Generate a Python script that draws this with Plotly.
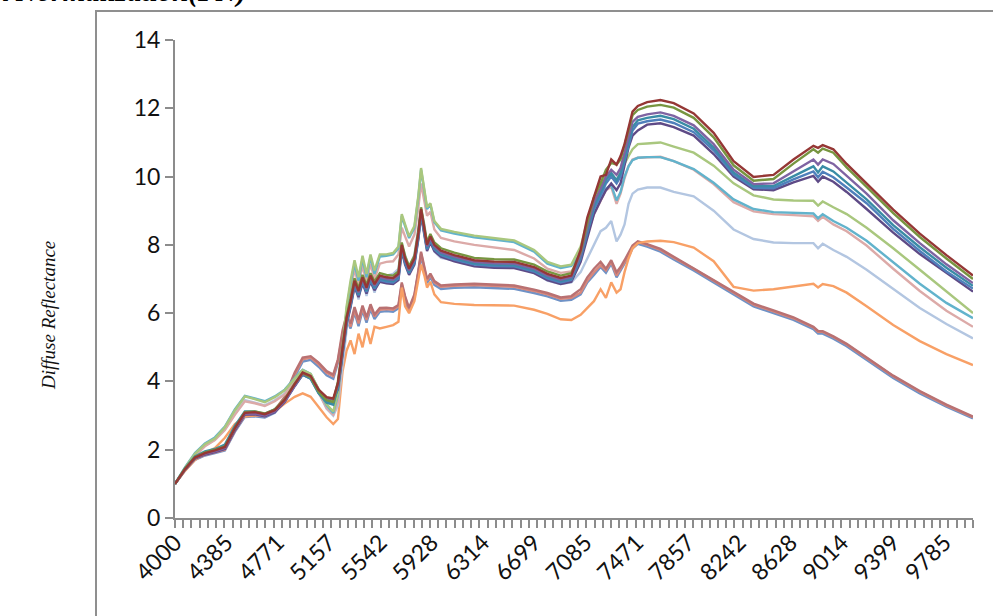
import plotly.graph_objects as go

WAVENUMBER = [4000, 4075, 4150, 4225, 4300, 4375, 4450, 4525, 4600, 4675,
              4750, 4825, 4900, 4960, 5020, 5080, 5140, 5190, 5225, 5260,
              5290, 5320, 5350, 5380, 5410, 5440, 5470, 5500, 5540, 5590,
              5640, 5680, 5705, 5730, 5760, 5800, 5830, 5850, 5875, 5895,
              5920, 5950, 6000, 6100, 6250, 6400, 6550, 6700, 6800, 6900,
              6980, 7050, 7100, 7150, 7200, 7240, 7280, 7320, 7350, 7380,
              7410, 7440, 7480, 7550, 7650, 7750, 7900, 8050, 8200, 8350,
              8500, 8650, 8800, 8835, 8870, 8950, 9050, 9200, 9400, 9600,
              9800, 10000]

# ---- bottom group (blue / salmon / mauve) ----
B1 = [1.0, 1.39, 1.7, 1.83, 1.9, 1.98, 2.52, 2.96, 2.98, 2.94,
      3.08, 3.45, 4.14, 4.58, 4.63, 4.43, 4.18, 4.08,
      4.55, 5.3, 5.85, 5.55, 6.02, 5.62, 6.08, 5.72, 6.12, 5.83, 6.04, 6.06, 6.04, 6.14, 6.78, 6.38, 6.04, 6.44,
      7.13, 7.68, 7.23, 6.88, 7.05, 6.83, 6.71, 6.74, 6.76, 6.74, 6.71, 6.59, 6.49, 6.36, 6.39,
      6.55, 6.9, 7.12, 7.35, 7.18, 7.45, 7.05, 7.25, 7.45, 7.65, 7.9, 8.03,
      7.95, 7.8, 7.57, 7.25, 6.9, 6.55, 6.2, 6.0, 5.8, 5.53, 5.4, 5.4, 5.25, 5.03, 4.63, 4.1, 3.65, 3.26, 2.92]
B2 = [1.0, 1.4, 1.72, 1.85, 1.92, 2.0, 2.55, 3.0, 3.02, 2.98,
      3.12, 3.5, 4.2, 4.65, 4.7, 4.5, 4.25, 4.15,
      4.6, 5.4, 5.9, 5.6, 6.1, 5.7, 6.15, 5.8, 6.2, 5.9, 6.1, 6.12, 6.1, 6.2, 6.85, 6.45, 6.1, 6.5,
      7.2, 7.75, 7.3, 6.95, 7.12, 6.9, 6.77, 6.8, 6.82, 6.8, 6.77, 6.65, 6.55, 6.42, 6.45,
      6.6, 6.95, 7.2, 7.4, 7.25, 7.5, 7.1, 7.3, 7.5, 7.7, 7.95, 8.08,
      8.0, 7.85, 7.62, 7.3, 6.95, 6.6, 6.25, 6.05, 5.85, 5.58, 5.45, 5.45, 5.3, 5.08, 4.68, 4.15, 3.7, 3.3, 2.95]
B3 = [1.0, 1.41, 1.73, 1.87, 1.95, 2.03, 2.58, 3.03, 3.05, 3.01,
      3.16, 3.55, 4.26, 4.7, 4.74, 4.55, 4.3, 4.2,
      4.65, 5.5, 5.95, 5.7, 6.18, 5.8, 6.22, 5.88, 6.26, 5.96, 6.15, 6.16, 6.14, 6.24, 6.9, 6.5, 6.15, 6.55,
      7.25, 7.8, 7.35, 7.0, 7.16, 6.94, 6.81, 6.84, 6.86, 6.84, 6.81, 6.69, 6.59, 6.46, 6.5,
      6.7, 7.05, 7.3, 7.5, 7.3, 7.55, 7.2, 7.35, 7.55, 7.75, 7.98, 8.1,
      8.02, 7.88, 7.65, 7.33, 6.98, 6.63, 6.28, 6.08, 5.88, 5.6, 5.48, 5.47, 5.32, 5.1, 4.7, 4.17, 3.72, 3.32, 2.97]

# ---- single lines ----
ORANGE = [1.0, 1.38, 1.7, 1.9, 2.05, 2.35, 2.75, 2.97, 3.0, 3.02,
          3.12, 3.35, 3.55, 3.65, 3.55, 3.25, 2.95, 2.75, 2.9, 4.3,
          4.9, 5.2, 4.8, 5.4, 5.0, 5.55, 5.1, 5.6, 5.55, 5.6,
          5.65, 5.75, 6.75, 6.2, 6.0, 6.35, 7.0, 7.42, 7.1, 6.75,
          6.92, 6.55, 6.32, 6.27, 6.24, 6.24, 6.22, 6.1, 5.98, 5.82,
          5.8, 5.95, 6.15, 6.35, 6.7, 6.45, 6.9, 6.6, 6.7, 7.2,
          7.6, 7.9, 8.05, 8.1, 8.12, 8.08, 7.92, 7.52, 6.77, 6.66,
          6.7, 6.78, 6.86, 6.75, 6.85, 6.79, 6.6, 6.2, 5.65, 5.18,
          4.8, 4.48]
LAVENDER = [1.0, 1.45, 1.84, 2.12, 2.3, 2.6, 3.05, 3.45, 3.38, 3.3,
            3.45, 3.65, 4.0, 4.25, 4.15, 3.7, 3.2, 3.0, 3.3, 4.5,
            5.5, 6.3, 6.9, 6.4, 7.1, 6.5, 7.0, 6.6, 7.1, 7.1,
            7.15, 7.3, 8.0, 7.7, 7.35, 7.7, 8.5, 9.05, 8.6, 8.0,
            8.15, 7.8, 7.62, 7.55, 7.5, 7.42, 7.37, 7.2, 6.95, 6.85,
            6.9, 7.2, 7.6, 8.0, 8.4, 8.5, 8.7, 8.1, 8.3, 8.6,
            9.2, 9.5, 9.62, 9.68, 9.68, 9.55, 9.42, 9.0, 8.45, 8.17,
            8.07, 8.05, 8.05, 7.9, 8.03, 7.85, 7.65, 7.27, 6.7, 6.15,
            5.68, 5.26]
PINK = [1.0, 1.44, 1.82, 2.1, 2.28, 2.58, 3.02, 3.42, 3.36, 3.28,
        3.42, 3.62, 3.98, 4.22, 4.12, 3.68, 3.22, 3.03, 3.4, 4.8,
        5.9, 6.6, 7.3, 6.8, 7.4, 6.9, 7.45, 7.0, 7.45, 7.5,
        7.52, 7.72, 8.5, 8.25, 7.95, 8.3, 9.1, 9.8, 9.3, 8.85,
        8.97, 8.45, 8.2, 8.1, 8.0, 7.93, 7.85, 7.6, 7.3, 7.18,
        7.22, 7.6, 8.3, 8.9, 9.3, 9.6, 9.7, 9.2, 9.5, 9.95,
        10.3, 10.5, 10.55, 10.57, 10.58, 10.45, 10.2, 9.78, 9.25, 8.98,
        8.9, 8.87, 8.84, 8.7, 8.82, 8.6, 8.4, 7.98, 7.3, 6.65,
        6.07, 5.6]
TEAL = [1.0, 1.48, 1.9, 2.18, 2.36, 2.68, 3.18, 3.58, 3.5, 3.42,
        3.56, 3.76, 4.1, 4.34, 4.22, 3.76, 3.3, 3.08, 3.6, 4.9,
        6.1, 6.85, 7.45, 6.95, 7.6, 7.05, 7.65, 7.15, 7.66, 7.68,
        7.72, 7.9, 8.85, 8.55, 8.2, 8.5, 9.4, 10.2, 9.55, 9.05,
        9.18, 8.66, 8.42, 8.33, 8.22, 8.15, 8.08, 7.8, 7.45, 7.32,
        7.38, 7.75, 8.45, 9.05, 9.4, 9.65, 9.75, 9.3, 9.55, 10.0,
        10.3, 10.48, 10.55, 10.57, 10.57, 10.45, 10.22, 9.82, 9.33, 9.05,
        8.96, 8.93, 8.92, 8.78, 8.9, 8.7, 8.5, 8.12, 7.48, 6.86,
        6.3, 5.85]
LIGHT_GREEN = [1.0, 1.47, 1.88, 2.16, 2.33, 2.66, 3.15, 3.56, 3.48, 3.39,
               3.54, 3.74, 4.08, 4.33, 4.22, 3.78, 3.33, 3.12, 3.65, 5.0,
               6.2, 6.95, 7.55, 7.05, 7.68, 7.15, 7.72, 7.25, 7.72, 7.72,
               7.76, 7.95, 8.9, 8.6, 8.25, 8.55, 9.45, 10.25, 9.6, 9.1,
               9.22, 8.7, 8.47, 8.38, 8.27, 8.2, 8.13, 7.85, 7.5, 7.37,
               7.42, 7.95, 8.7, 9.35, 9.7, 10.0, 10.1, 9.85, 10.15, 10.4,
               10.6, 10.8, 10.95, 10.97, 11.0, 10.88, 10.7, 10.32, 9.8, 9.45,
               9.33, 9.3, 9.29, 9.15, 9.27, 9.1, 8.9, 8.5, 7.9, 7.27,
               6.63, 6.0]

# ---- top group (six lines) ----
T6_DARK_PURPLE = [1.0, 1.41, 1.74, 1.86, 1.93, 2.02, 2.57, 3.03, 3.04, 2.98,
                  3.1, 3.4, 3.86, 4.2, 4.1, 3.72, 3.52, 3.5,
                  3.77, 4.77, 5.67, 6.17, 6.77, 6.47, 6.87, 6.57, 6.92, 6.67, 6.92, 6.87, 6.85, 6.97, 7.82, 7.42, 7.12, 7.42,
                  8.17, 8.87, 8.27, 7.82, 8.07, 7.82, 7.65, 7.52, 7.37, 7.33, 7.32, 7.17, 6.97, 6.85, 6.92,
                  7.5, 8.2, 8.9, 9.3, 9.6, 9.8, 9.6, 9.8, 10.3, 10.85, 11.2, 11.35,
                  11.52, 11.56, 11.45, 11.2, 10.66, 10.0, 9.63, 9.6, 9.83, 10.02, 9.85, 10.0, 9.85, 9.55, 9.05, 8.36, 7.73, 7.17, 6.63]
T5_BLUE = [1.0, 1.44, 1.78, 1.92, 2.0, 2.1, 2.65, 3.08, 3.08, 3.02,
           3.14, 3.43, 3.88, 4.2, 4.08, 3.66, 3.42, 3.38,
           3.82, 4.82, 5.72, 6.22, 6.82, 6.52, 6.92, 6.62, 6.97, 6.72, 6.97, 6.92, 6.9, 7.02, 7.87, 7.47, 7.17, 7.47,
           8.22, 8.92, 8.32, 7.87, 8.12, 7.87, 7.7, 7.57, 7.42, 7.38, 7.37, 7.22, 7.02, 6.9, 6.97,
           7.6, 8.35, 9.05, 9.45, 9.8, 10.0, 9.8, 10.0, 10.45, 10.95, 11.35, 11.55,
           11.62, 11.67, 11.57, 11.3, 10.77, 10.06, 9.67, 9.66, 9.92, 10.15, 9.98, 10.14, 9.98, 9.68, 9.22, 8.47, 7.82, 7.22, 6.72]
T4_TEAL = [1.0, 1.45, 1.8, 1.95, 2.02, 2.15, 2.7, 3.12, 3.12, 3.05,
           3.18, 3.45, 3.9, 4.2, 4.08, 3.65, 3.38, 3.32,
           3.85, 4.85, 5.75, 6.26, 6.86, 6.56, 6.96, 6.66, 7.01, 6.76, 7.01, 6.96, 6.94, 7.06, 7.91, 7.51, 7.21, 7.51,
           8.26, 8.95, 8.36, 7.91, 8.16, 7.91, 7.74, 7.61, 7.46, 7.42, 7.41, 7.26, 7.06, 6.94, 7.01,
           7.65, 8.4, 9.15, 9.55, 9.9, 10.1, 9.9, 10.1, 10.55, 11.05, 11.45, 11.65,
           11.72, 11.78, 11.68, 11.4, 10.85, 10.12, 9.72, 9.72, 10.02, 10.3, 10.12, 10.3, 10.15, 9.82, 9.33, 8.58, 7.93, 7.33, 6.8]
T3_PURPLE = [1.0, 1.42, 1.75, 1.88, 1.95, 2.05, 2.6, 3.05, 3.06, 3.0,
             3.12, 3.42, 3.88, 4.22, 4.12, 3.72, 3.5, 3.46,
             3.9, 4.9, 5.8, 6.3, 6.9, 6.6, 7.0, 6.7, 7.05, 6.8, 7.05, 7.0, 6.98, 7.1, 7.95, 7.55, 7.25, 7.55,
             8.3, 9.0, 8.4, 7.95, 8.2, 7.95, 7.78, 7.65, 7.5, 7.46, 7.45, 7.3, 7.1, 6.98, 7.05,
             7.7, 8.5, 9.25, 9.65, 10.0, 10.2, 10.05, 10.25, 10.7, 11.15, 11.6, 11.75,
             11.82, 11.88, 11.78, 11.5, 10.95, 10.2, 9.78, 9.8, 10.15, 10.5, 10.35, 10.5, 10.37, 10.02, 9.5, 8.72, 8.05, 7.43, 6.88]
T2_OLIVE = [1.0, 1.44, 1.78, 1.92, 2.0, 2.1, 2.64, 3.1, 3.12, 3.06,
            3.18, 3.48, 3.94, 4.25, 4.12, 3.7, 3.45, 3.4,
            4.0, 5.0, 5.9, 6.42, 7.02, 6.72, 7.12, 6.82, 7.17, 6.92, 7.17, 7.12, 7.1, 7.22, 8.07, 7.67, 7.37, 7.67,
            8.42, 9.1, 8.52, 8.07, 8.32, 8.07, 7.9, 7.77, 7.62, 7.58, 7.57, 7.42, 7.22, 7.1, 7.17,
            7.8, 8.65, 9.4, 9.8, 10.2, 10.4, 10.35, 10.5, 10.9, 11.35, 11.8, 11.95,
            12.05, 12.1, 12.02, 11.72, 11.15, 10.33, 9.88, 9.93, 10.38, 10.8, 10.7, 10.82, 10.7, 10.27, 9.7, 8.93, 8.23, 7.6, 7.0]
T1_DARK_RED = [1.0, 1.43, 1.77, 1.9, 1.98, 2.08, 2.63, 3.08, 3.1, 3.04,
               3.16, 3.46, 3.92, 4.26, 4.16, 3.76, 3.54, 3.5,
               3.95, 4.95, 5.85, 6.35, 6.95, 6.65, 7.05, 6.75, 7.1, 6.85, 7.1, 7.05, 7.03, 7.15, 8.0, 7.6, 7.3, 7.6,
               8.35, 9.05, 8.45, 8.0, 8.25, 8.0, 7.83, 7.7, 7.55, 7.51, 7.5, 7.35, 7.15, 7.03, 7.1,
               7.85, 8.8, 9.4, 10.0, 10.05, 10.5, 10.35, 10.6, 10.95, 11.45, 11.9, 12.07,
               12.18, 12.24, 12.15, 11.85, 11.28, 10.45, 9.99, 10.05, 10.5, 10.9, 10.84, 10.92, 10.8, 10.37, 9.8, 9.03, 8.33, 7.7, 7.1]

# axis tick labels (category-style labels of the original)
TICK_POS = [4000, 4385.7, 4771.4, 5157.1, 5542.9, 5928.6, 6314.3, 6699.6,
            7085.7, 7471.4, 7857.1, 8242.9, 8628.6, 9014.3, 9399.6, 9785.7]
TICK_LABELS = ["4000", "4385", "4771", "5157", "5542", "5928", "6314", "6699",
               "7085", "7471", "7857", "8242", "8628", "9014", "9399", "9785"]

SERIES = [
    ("B1", B1, "#6f92c6"),
    ("B2", B2, "#d8877b"),
    ("B3", B3, "#b97172"),
    ("Orange", ORANGE, "#f8a066"),
    ("Lavender", LAVENDER, "#b3c6e1"),
    ("Pink", PINK, "#dcaaa8"),
    ("Teal", TEAL, "#62b3cc"),
    ("LightGreen", LIGHT_GREEN, "#a9c77e"),
    ("T6", T6_DARK_PURPLE, "#5e4a86"),
    ("T5", T5_BLUE, "#4f7fbb"),
    ("T4", T4_TEAL, "#3a8ca6"),
    ("T3", T3_PURPLE, "#7f63a2"),
    ("T2", T2_OLIVE, "#779540"),
    ("T1", T1_DARK_RED, "#953735"),
]

fig = go.Figure()
for name, vals, col in SERIES:
    fig.add_trace(go.Scatter(x=WAVENUMBER, y=vals, mode="lines", name=name,
                             line=dict(color=col, width=2.4), showlegend=False))

L, R, T, B = 175, 20, 40, 98
W, H = 993, 616
pw, ph = W - L - R, H - T - B

def px(xp):
    return (xp - L) / pw

def py(yp):
    return (H - B - yp) / ph

tick_font = dict(family="Lato, Carlito, sans-serif", size=23, color="#111111")

fig.update_layout(
    width=W, height=H,
    margin=dict(l=L, r=R, t=T, b=B),
    paper_bgcolor="white", plot_bgcolor="white",
    xaxis=dict(range=[4000, 10000], showgrid=False, zeroline=False,
               showline=True, linecolor="#8c8c8c", linewidth=2,
               tickmode="array", tickvals=TICK_POS, ticktext=TICK_LABELS,
               ticks="", tickangle=-45, tickfont=tick_font,
               minor=dict(ticks="outside", tick0=4000, dtick=6000 / 97,
                          ticklen=8, tickwidth=2, tickcolor="#8c8c8c")),
    yaxis=dict(range=[0, 14], dtick=2, showgrid=False, zeroline=False,
               showline=True, linecolor="#8c8c8c", linewidth=2,
               ticks="outside", ticklen=8, tickwidth=2, tickcolor="#8c8c8c",
               tickfont=tick_font),
    shapes=[dict(type="rect", xref="paper", yref="paper",
                 x0=px(96), x1=px(1010), y0=py(640), y1=py(11),
                 line=dict(color="#8f8f8f", width=2), fillcolor="rgba(0,0,0,0)",
                 layer="below")],
    annotations=[
        dict(text="<i>Diffuse Reflectance</i>", xref="paper", yref="paper",
             x=px(48), y=py(316), xanchor="center", yanchor="middle",
             textangle=-90, showarrow=False,
             font=dict(family="Liberation Serif, Times New Roman, serif",
                       size=19, color="#111111")),
        dict(text="<b><i>(b) Peak Normalization(PN)</i></b>", xref="paper", yref="paper",
             x=px(248), y=py(10), xanchor="right", yanchor="bottom",
             showarrow=False,
             font=dict(family="Liberation Serif, Times New Roman, serif",
                       size=29, color="#000000")),
    ],
)

fig.write_html("out.html", config={"displayModeBar": False},
               post_script="document.body.style.margin='0';")
